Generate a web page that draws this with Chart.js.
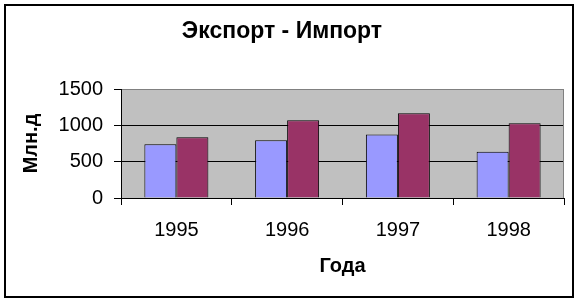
<!DOCTYPE html>
<html>
<head>
<meta charset="utf-8">
<script src="https://cdn.jsdelivr.net/npm/chart.js@4"></script>
<style>
  body { margin: 0; background: #fff; }
</style>
</head>
<body>
<canvas id="chart" width="579" height="302"></canvas>
<script>
// данные
const years = ['1995', '1996', '1997', '1998'];
const exportValues = [740, 795, 875, 635];
const importValues = [835, 1070, 1165, 1030];
const yTicks = [0, 500, 1000, 1500];

const FONT = "'Liberation Sans', Arial, sans-serif";

// фон, серая область построения и рамка
const frame = {
    id: 'frame',
    beforeDraw(chart) {
        const c = chart.ctx, a = chart.chartArea;
        c.save();
        c.fillStyle = '#fff';
        c.fillRect(0, 0, chart.width, chart.height);
        c.fillStyle = '#c0c0c0';
        c.fillRect(a.left, a.top, a.right - a.left, a.bottom - a.top);
        c.restore();
    },
    beforeDatasetsDraw(chart) {
        const c = chart.ctx, a = chart.chartArea;
        c.save();
        c.strokeStyle = '#808080';
        c.lineWidth = 1;
        c.beginPath();
        c.moveTo(Math.round(a.right) - 0.5, a.top);
        c.lineTo(Math.round(a.right) - 0.5, a.bottom);
        c.stroke();
        c.restore();
    },
    afterDraw(chart) {
        const c = chart.ctx;
        c.save();
        c.strokeStyle = '#000';
        c.lineWidth = 2;
        c.strokeRect(5, 5, 568, 292);
        c.restore();
    }
};

new Chart(document.getElementById('chart'), {
    type: 'bar',
    data: {
        labels: years,
        datasets: [{
            label: 'Экспорт',
            data: exportValues,
            backgroundColor: '#9999ff',
            borderColor: '#000',
            borderWidth: 1
        }, {
            label: 'Импорт',
            data: importValues,
            backgroundColor: '#993366',
            borderColor: '#000',
            borderWidth: 1
        }]
    },
    options: {
        responsive: false,
        animation: false,
        layout: { padding: { left: 0, right: 15, top: 0, bottom: 0 } },
        datasets: { bar: { categoryPercentage: 0.578, barPercentage: 1 } },
        plugins: {
            legend: { display: false },
            tooltip: { enabled: false },
            title: {
                display: true,
                text: 'Экспорт - Импорт',
                color: '#000',
                font: { family: FONT, size: 23, weight: 'bold' },
                padding: { top: 18, bottom: 43.4 }
            }
        },
        scales: {
            x: {
                afterFit(scale) { scale.height = 104; },
                grid: { drawOnChartArea: false, color: '#000', tickLength: 7 },
                border: { color: '#000' },
                ticks: { color: '#000', padding: 13, font: { family: FONT, size: 20 } },
                title: {
                    display: true,
                    text: 'Года',
                    color: '#000',
                    font: { family: FONT, size: 20, weight: 'bold' },
                    padding: { top: 0, bottom: 24 }
                }
            },
            y: {
                min: yTicks[0],
                max: yTicks[yTicks.length - 1],
                afterFit(scale) { scale.width = 121; },
                afterBuildTicks(scale) { scale.ticks = yTicks.map(v => ({ value: v })); },
                grid: {
                    color: ctx => (ctx.tick && ctx.tick.value === 1500) ? '#808080' : '#000',
                    tickColor: '#000',
                    tickLength: 7
                },
                border: { color: '#000' },
                ticks: {
                    color: '#000',
                    padding: 11,
                    font: { family: FONT, size: 20 },
                    callback: v => String(v)
                },
                title: {
                    display: true,
                    text: 'Млн.д',
                    color: '#000',
                    font: { family: FONT, size: 20, weight: 'bold' },
                    padding: { top: 19, bottom: 0 }
                }
            }
        }
    },
    plugins: [frame]
});
</script>
</body>
</html>
